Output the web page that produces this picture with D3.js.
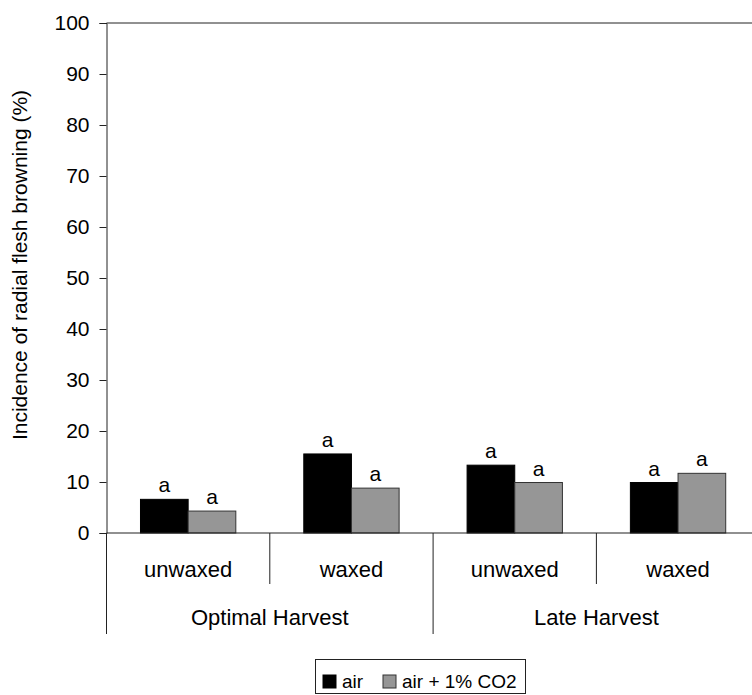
<!DOCTYPE html>
<html>
<head>
<meta charset="utf-8">
<script src="https://cdn.jsdelivr.net/npm/d3@7"></script>
<style>
  html, body { margin: 0; padding: 0; background: #fff; }
  svg { display: block; }
  text { font-family: Arial, "Liberation Sans", sans-serif; fill: #000; }
</style>
</head>
<body>
<svg id="chart" width="752" height="695"></svg>
<script>
// ---- data ----
const harvests = ["Optimal Harvest", "Late Harvest"];
const treatments = ["unwaxed", "waxed"];
const groups = ["OH-unwaxed", "OH-waxed", "LH-unwaxed", "LH-waxed"];
const seriesNames = ["air", "air + 1% CO2"];
const airValues = [6.6, 15.5, 13.3, 9.9];
const co2Values = [4.3, 8.8, 9.9, 11.7];
const airLetters = ["a", "a", "a", "a"];
const co2Letters = ["a", "a", "a", "a"];
const yTicks = [0, 10, 20, 30, 40, 50, 60, 70, 80, 90, 100];
const yTitle = "Incidence of radial flesh browning (%)";

(function () {
const colors = ["#000000", "#969696"];
const strokes = ["#000000", "#333333"];

const svg = d3.select("#chart");
const pLeft = 106.5, pRight = 759.7, pTop = 23, pBottom = 533;

const y = d3.scaleLinear().domain([0, 100]).range([pBottom, pTop]);
const x0 = d3.scaleBand().domain(groups).range([pLeft, pRight]).paddingInner(0).paddingOuter(0);
const x1 = d3.scaleBand().domain(seriesNames).range([0, x0.bandwidth()]).paddingInner(0).paddingOuter(0.713);

// top border
svg.append("line").attr("x1", pLeft).attr("x2", pRight).attr("y1", y(100)).attr("y2", y(100))
  .attr("stroke", "#222").attr("stroke-width", 1);

// y axis
const yAxis = d3.axisLeft(y).tickValues(yTicks).tickSize(7).tickPadding(10).tickFormat(d3.format("d"));
const ya = svg.append("g").attr("transform", `translate(${pLeft},0)`).call(yAxis);
ya.select(".domain").attr("stroke", "#222");
ya.selectAll(".tick line").attr("stroke", "#222");
ya.selectAll(".tick text").attr("font-size", 21).attr("font-family", "Arial, 'Liberation Sans', sans-serif").attr("fill", "#000");

// y title
svg.append("text")
  .attr("transform", `translate(27,265) rotate(-90)`)
  .attr("text-anchor", "middle")
  .attr("font-size", 21)
  .text(yTitle);

// bars
const rows = groups.map((g, i) => ({ g, vals: [airValues[i], co2Values[i]], letters: [airLetters[i], co2Letters[i]] }));
const gg = svg.selectAll("g.grp").data(rows).join("g").attr("class", "grp")
  .attr("transform", d => `translate(${x0(d.g)},0)`);
gg.selectAll("rect").data(d => d.vals.map((v, j) => ({ s: seriesNames[j], v, j })))
  .join("rect")
  .attr("x", d => x1(d.s))
  .attr("width", x1.bandwidth())
  .attr("y", d => y(d.v))
  .attr("height", d => y(0) - y(d.v))
  .attr("fill", d => colors[d.j])
  .attr("stroke", d => strokes[d.j])
  .attr("stroke-width", 1);
gg.selectAll("text.lett").data(d => d.vals.map((v, j) => ({ s: seriesNames[j], v, j, l: d.letters[j] })))
  .join("text").attr("class", "lett")
  .attr("x", d => x1(d.s) + x1.bandwidth() / 2)
  .attr("y", d => y(d.v) - 7)
  .attr("text-anchor", "middle")
  .attr("font-size", 21)
  .text(d => d.l);

// baseline
svg.append("line").attr("x1", pLeft).attr("x2", pRight).attr("y1", pBottom).attr("y2", pBottom)
  .attr("stroke", "#222").attr("stroke-width", 1.2);

// category axis
const innerBottom = 584, outerBottom = 634;
groups.forEach((g, i) => {
  const isOuter = (i % 2 === 0);
  svg.append("line").attr("x1", x0(g)).attr("x2", x0(g)).attr("y1", pBottom).attr("y2", isOuter ? outerBottom : innerBottom)
    .attr("stroke", "#222").attr("stroke-width", 1);
  svg.append("text").attr("x", x0(g) + x0.bandwidth() / 2).attr("y", 577)
    .attr("text-anchor", "middle").attr("font-size", 22).text(treatments[i % 2]);
});
svg.append("line").attr("x1", pRight).attr("x2", pRight).attr("y1", pBottom).attr("y2", outerBottom).attr("stroke", "#222");
harvests.forEach((h, k) => {
  const xs = x0(groups[k * 2]);
  const xe = x0(groups[k * 2 + 1]) + x0.bandwidth();
  svg.append("text").attr("x", (xs + xe) / 2).attr("y", 625)
    .attr("text-anchor", "middle").attr("font-size", 22).text(h);
});

// legend
const lg = svg.append("g");
lg.append("rect").attr("x", 315.5).attr("y", 659.5).attr("width", 210).attr("height", 34)
  .attr("fill", "#fff").attr("stroke", "#222");
const legX = [323, 383];
seriesNames.forEach((s, j) => {
  lg.append("rect").attr("x", legX[j]).attr("y", 675).attr("width", 13).attr("height", 13)
    .attr("fill", colors[j]).attr("stroke", strokes[j]);
  lg.append("text").attr("x", legX[j] + 19).attr("y", 688).attr("font-size", 19).text(s);
});
})();
</script>
</body>
</html>
